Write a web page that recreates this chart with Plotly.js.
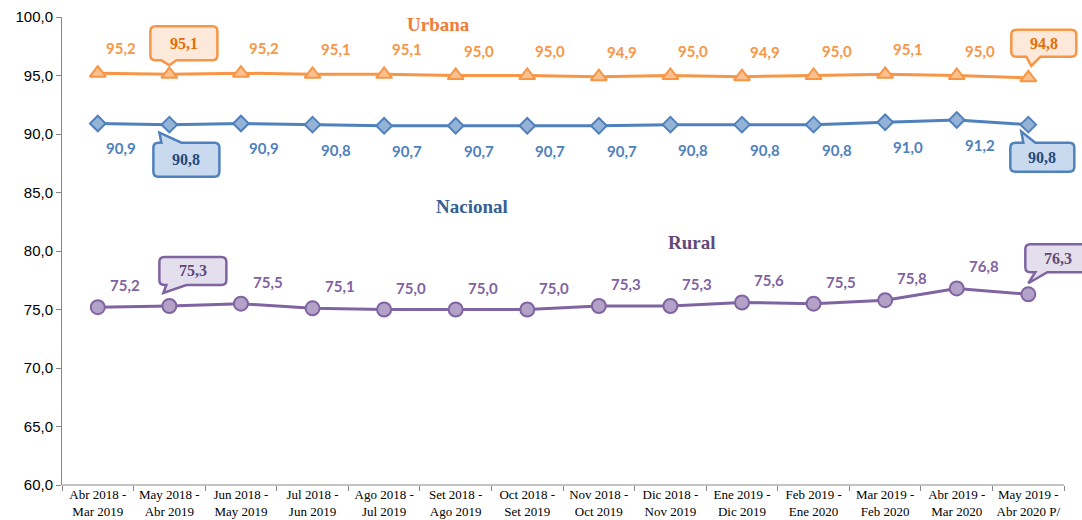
<!DOCTYPE html>
<html>
<head>
<meta charset="utf-8">
<script src="https://cdn.plot.ly/plotly-3.0.1.min.js"></script>
<style>html,body{margin:0;padding:0;background:#fff;}#chart{width:1082px;height:520px;}</style>
</head>
<body>
<div id="chart"></div>
<script>
const categories = [
  "Abr 2018 -<br>Mar 2019", "May 2018 -<br>Abr 2019", "Jun 2018 -<br>May 2019",
  "Jul 2018 -<br>Jun 2019", "Ago 2018 -<br>Jul 2019", "Set 2018 -<br>Ago 2019",
  "Oct 2018 -<br>Set 2019", "Nov 2018 -<br>Oct 2019", "Dic 2018 -<br>Nov 2019",
  "Ene 2019 -<br>Dic 2019", "Feb 2019 -<br>Ene 2020", "Mar 2019 -<br>Feb 2020",
  "Abr 2019 -<br>Mar 2020", "May 2019 -<br>Abr 2020 P/"
];
const urbana   = [95.2, 95.1, 95.2, 95.1, 95.1, 95.0, 95.0, 94.9, 95.0, 94.9, 95.0, 95.1, 95.0, 94.8];
const nacional = [90.9, 90.8, 90.9, 90.8, 90.7, 90.7, 90.7, 90.7, 90.8, 90.8, 90.8, 91.0, 91.2, 90.8];
const rural    = [75.2, 75.3, 75.5, 75.1, 75.0, 75.0, 75.0, 75.3, 75.3, 75.6, 75.5, 75.8, 76.8, 76.3];
const highlighted = [1, 13];
const seriesNames = ["Urbana", "Nacional", "Rural"];

const fmt = v => v.toFixed(1).replace('.', ',');

const styles = {
  Urbana: {line: '#F79646', fill: '#FAC090', symbol: 'triangle-up', size: 14, label: '#F79646',
           title: '#EE7D35', boxFill: '#FDE9D9', boxText: '#E46C0A', dx: 23, dy: 25,
           tpos: [0.369, 0.985],
           callouts: {
             1:  {box: [-19, 48, 14, 48], tail: 'bottom', base: [-8, 7], tip: [0, 9]},
             13: {box: [-17, 48, 21, 48], tail: 'bottom', base: [-2, 12], tip: [3, 12]}
           }},
  Nacional: {line: '#4F81BD', fill: '#95B3D7', symbol: 'diamond', size: 12, label: '#4F81BD',
           title: '#376092', boxFill: '#C9DAEE', boxText: '#1F497D', dx: 23, dy: -25,
           tpos: [0.402, 0.596],
           callouts: {
             1:  {box: [-16, 50, -52, -18], tail: 'top', base: [-8, 12], tip: [-10, -8]},
             13: {box: [-18, 46, -47, -18], tail: 'top', base: [-5, 7], tip: [-7, -7]}
           }},
  Rural: {line: '#8064A2', fill: '#B3A2C7', symbol: 'circle', size: 14, label: '#7F63A1',
           title: '#604A7B', boxFill: '#E4DFEC', boxText: '#5F497A', dx: 27, dy: 22,
           tpos: [0.618, 0.519],
           callouts: {
             1:  {box: [-10, 57, 21, 49], tail: 'bottom', base: [-3, 17], tip: [-6, 13]},
             13: {box: [-3, 62, 22, 50], tail: 'bottom', base: [7, 19], tip: [0, 11]}
           }}
};
const seriesValues = {Urbana: urbana, Nacional: nacional, Rural: rural};

function bubblePath(c) {
  const [L, R, B, T] = c.box, r = 5;
  let p = `M${L + r},${T}`;
  if (c.tail === 'top') p += ` L${c.base[0]},${T} L${c.tip[0]},${c.tip[1]} L${c.base[1]},${T}`;
  p += ` L${R - r},${T} Q${R},${T} ${R},${T - r} L${R},${B + r} Q${R},${B} ${R - r},${B}`;
  if (c.tail === 'bottom') p += ` L${c.base[1]},${B} L${c.tip[0]},${c.tip[1]} L${c.base[0]},${B}`;
  p += ` L${L + r},${B} Q${L},${B} ${L},${B + r} L${L},${T - r} Q${L},${T} ${L + r},${T} Z`;
  return p;
}

const traces = [];
const annotations = [];
const shapes = [];
const xIdx = categories.map((_, i) => i);

['Rural', 'Nacional', 'Urbana'].forEach(name => {
  const s = styles[name], vals = seriesValues[name];
  traces.push({
    x: xIdx, y: vals, type: 'scatter', mode: 'lines+markers', name: name,
    line: {color: s.line, width: 3},
    marker: {symbol: s.symbol, size: s.size, color: s.fill, line: {color: s.line, width: 2}},
    hoverinfo: 'skip', cliponaxis: false
  });
  vals.forEach((v, i) => {
    if (highlighted.includes(i)) {
      const c = s.callouts[i];
      shapes.push({type: 'path', xref: 'x', yref: 'y', xsizemode: 'pixel', ysizemode: 'pixel',
        xanchor: i, yanchor: v, path: bubblePath(c), fillcolor: s.boxFill,
        line: {color: s.line, width: 2.5}, layer: 'above'});
      annotations.push({x: i, y: v, xref: 'x', yref: 'y', showarrow: false,
        xanchor: 'center', yanchor: 'middle',
        text: '<b>' + fmt(v) + '</b>',
        xshift: (c.box[0] + c.box[1]) / 2, yshift: (c.box[2] + c.box[3]) / 2,
        font: {family: 'Liberation Serif, serif', size: 16, color: s.boxText}});
    } else {
      annotations.push({x: i, y: v, xref: 'x', yref: 'y', showarrow: false,
        xanchor: 'center', yanchor: 'middle',
        text: fmt(v), xshift: s.dx, yshift: s.dy,
        font: {family: 'Lato, sans-serif', size: 15, color: s.label, weight: 'bold'}});
    }
  });
  annotations.push({x: s.tpos[0], y: s.tpos[1], xref: 'paper', yref: 'paper', showarrow: false,
    xanchor: 'center', yanchor: 'middle',
    text: '<b>' + name + '</b>',
    font: {family: 'Liberation Serif, serif', size: 19, color: s.title}});
});

// x axis baseline across the category span
shapes.push({type: 'line', xref: 'x', yref: 'paper', x0: -0.5, x1: categories.length - 0.5,
  y0: 0, y1: 0, line: {color: '#878787', width: 1}, layer: 'above'});

const layout = {
  width: 1082, height: 520,
  margin: {l: 62, r: 0, t: 17, b: 35, pad: 0},
  paper_bgcolor: '#ffffff', plot_bgcolor: '#ffffff',
  separators: ',.',
  showlegend: false,
  xaxis: {
    type: 'category', range: [-0.5, categories.length - 0.25],
    tickvals: xIdx, ticktext: categories, tickangle: 0,
    tickson: 'boundaries', ticks: 'outside', ticklen: 5, tickcolor: '#878787',
    showline: false, showgrid: false, zeroline: false,
    tickfont: {family: 'Liberation Serif, serif', size: 13, color: '#000'}
  },
  yaxis: {
    range: [60, 100], dtick: 5, tickformat: '.1f',
    ticks: 'outside', ticklen: 5, tickcolor: '#878787',
    showline: true, linecolor: '#878787', linewidth: 1,
    showgrid: false, zeroline: false,
    tickfont: {family: 'Liberation Sans, Arial, sans-serif', size: 15, color: '#000'}
  },
  annotations: annotations,
  shapes: shapes
};

Plotly.newPlot('chart', traces, layout, {displayModeBar: false, staticPlot: true});
</script>
</body>
</html>
